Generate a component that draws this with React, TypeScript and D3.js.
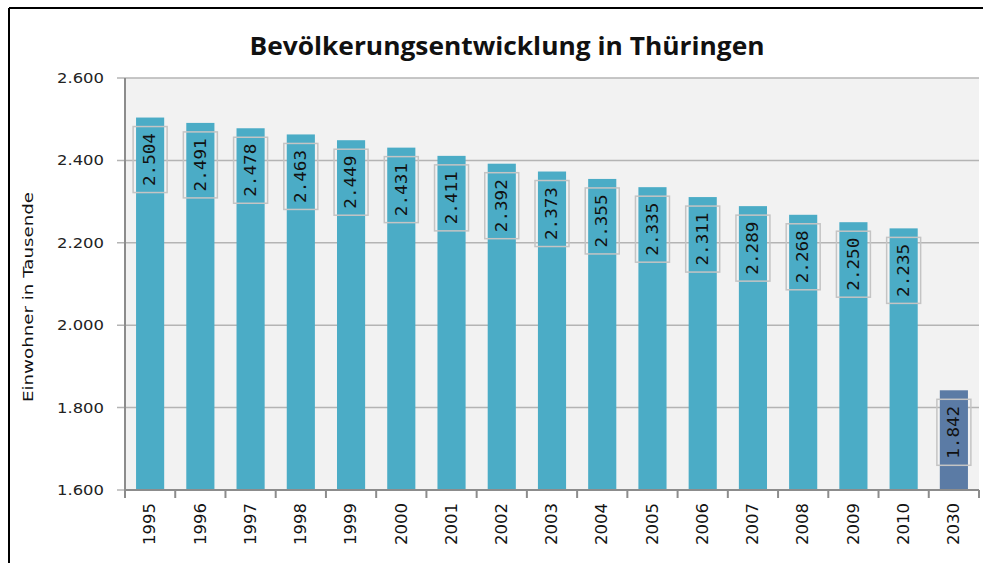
import React from "react";
import * as d3 from "d3";

const years = ["1995","1996","1997","1998","1999","2000","2001","2002","2003","2004","2005","2006","2007","2008","2009","2010","2030"];
const values = [2504,2491,2478,2463,2449,2431,2411,2392,2373,2355,2335,2311,2289,2268,2250,2235,1842];
const labels = ["2.504","2.491","2.478","2.463","2.449","2.431","2.411","2.392","2.373","2.355","2.335","2.311","2.289","2.268","2.250","2.235","1.842"];
const yTicks = [1600,1800,2000,2200,2400,2600];
const yTickLabels = ["1.600","1.800","2.000","2.200","2.400","2.600"];
const title = "Bevölkerungsentwicklung in Thüringen";
const yTitle = "Einwohner in Tausende";

export default function App() {
  const W = 983, H = 563;
  const left = 125, right = 979, top = 78, bottom = 490;
  const x = d3.scaleBand<string>().domain(years).range([left, right]).paddingInner(0.44).paddingOuter(0.22);
  const y = d3.scaleLinear().domain([1600, 2600]).range([bottom, top]);
  const step = (right - left) / years.length;
  const bw = x.bandwidth();
  return (
    <svg width={W} height={H} style={{ position: "absolute", left: 0, top: 0, background: "#fff" }}>
      <rect x={0} y={0} width={W} height={H} fill="#fff" />
      <line x1={9} y1={8} x2={W} y2={8} stroke="#000" strokeWidth={2} />
      <line x1={9} y1={8} x2={9} y2={H} stroke="#000" strokeWidth={2} />
      <text x={507} y={55} textAnchor="middle" fontFamily="'Open Sans', sans-serif" fontWeight="bold" fontSize={25} textLength={515} lengthAdjust="spacingAndGlyphs" fill="#111">{title}</text>
      <rect x={left} y={top} width={right - left} height={bottom - top} fill="#f2f2f2" />
      {yTicks.map((t) => (
        <line key={"g" + t} x1={left - 8} x2={right} y1={y(t)} y2={y(t)} stroke="#b4b4b4" strokeWidth={1.5} />
      ))}
      {yTicks.map((t, i) => (
        <text key={"yl" + t} x={104} y={y(t)} dy="0.35em" textAnchor="end" fontFamily="'DejaVu Sans', sans-serif" fontSize={14} textLength={47} lengthAdjust="spacingAndGlyphs" fill="#222">{yTickLabels[i]}</text>
      ))}
      <line x1={left} x2={left} y1={top} y2={bottom} stroke="#8c8c8c" strokeWidth={2} />
      {values.map((v, i) => (
        <rect key={"b" + i} x={x(years[i])!} y={y(v)} width={bw} height={bottom - y(v)} fill={years[i] === "2030" ? "#5b7ba5" : "#4bacc6"} />
      ))}
      <line x1={left} x2={right} y1={bottom} y2={bottom} stroke="#8c8c8c" strokeWidth={2} />
      {d3.range(years.length + 1).map((i) => (
        <line key={"t" + i} x1={left + i * step} x2={left + i * step} y1={bottom} y2={bottom + 8} stroke="#8c8c8c" strokeWidth={2} />
      ))}
      {years.map((yr) => {
        const cx = x(yr)! + bw / 2;
        return (
          <text key={"x" + yr} transform={`translate(${cx},503) rotate(-90)`} textAnchor="end" dy="0.35em" fontFamily="'DejaVu Sans', sans-serif" fontSize={15} textLength={42} lengthAdjust="spacingAndGlyphs" fill="#111">{yr}</text>
        );
      })}
      {values.map((v, i) => {
        const cx = x(years[i])! + bw / 2;
        const cy = y(v) + 42;
        return (
          <g key={"l" + i}>
            <rect x={cx - 17} y={cy - 33} width={34} height={66} fill="none" stroke="#c4c4c4" strokeWidth={1.5} />
            <text transform={`translate(${cx},${cy}) rotate(-90)`} textAnchor="middle" dy="0.35em" fontFamily="'DejaVu Sans Mono', monospace" fontSize={15} textLength={53} lengthAdjust="spacingAndGlyphs" fill="#111">{labels[i]}</text>
          </g>
        );
      })}
      <text transform={`translate(28,297) rotate(-90)`} textAnchor="middle" dy="0.35em" fontFamily="'DejaVu Sans', sans-serif" fontSize={14} textLength={210} lengthAdjust="spacingAndGlyphs" fill="#111">{yTitle}</text>
    </svg>
  );
}
